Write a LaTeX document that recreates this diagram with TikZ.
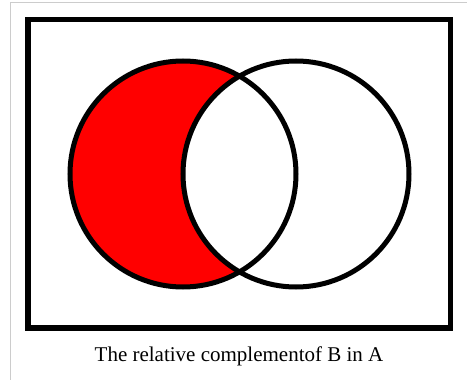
\documentclass[tikz,border=0pt]{standalone}
\usepackage{fontspec}
\setmainfont{Liberation Serif}
\usetikzlibrary{positioning}
\tikzset{>=latex}
\tikzset{venn/.style={line width=5pt, draw=black}}

\begin{document}
\begin{tikzpicture}[x=1pt,y=-1pt]
  \useasboundingbox (0,0) rectangle (467,380);
  % thumbnail frame
  \draw[color=black!20, line width=1.2pt] (10.5,380) -- (10.5,2.5) -- (467,2.5);
  % universe
  \draw[line width=5.5pt] (28,19.5) rectangle (450.5,328);
  \fill[red] (183,174) circle (113pt);
  \fill[white] (296,174) circle (113pt);
  \draw[venn] (183,174) circle (113pt);
  \draw[venn] (296,174) circle (113pt);
  \node[anchor=base] (caption) at (239,361)
    {\fontsize{21}{25}\selectfont The relative complementof B in A};
\end{tikzpicture}
\end{document}
